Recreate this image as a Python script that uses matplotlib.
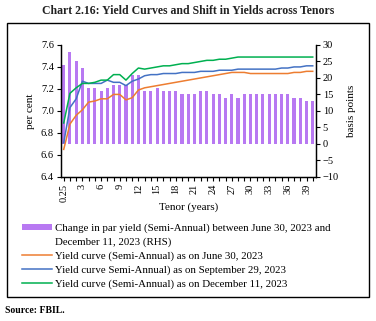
import matplotlib
matplotlib.use('Agg')
import matplotlib.pyplot as plt
from matplotlib.patches import Rectangle
from matplotlib.lines import Line2D

plt.rcParams['font.family'] = 'Liberation Serif'

tenors = ['0.25'] + [str(t) for t in range(1, 41)]

# change in par yield, Jun 30 -> Dec 11 (bps, right axis)
change_bp = [24, 28, 25, 23, 17, 17, 16, 17, 18, 18, 18, 21, 21, 16, 16, 17, 16, 16, 16, 15,
             15, 15, 16, 16, 15, 15, 14, 15, 14, 15, 15, 15, 15, 15, 15, 15, 15, 14, 14, 13, 13]

yc_jun30 = [6.65, 6.88, 6.96, 7.01, 7.08, 7.09, 7.11, 7.11, 7.15, 7.15, 7.10, 7.12, 7.19, 7.21,
            7.22, 7.23, 7.24, 7.25, 7.26, 7.27, 7.28, 7.29, 7.30, 7.31, 7.32, 7.33, 7.34, 7.35,
            7.35, 7.35, 7.34, 7.34, 7.34, 7.34, 7.34, 7.34, 7.34, 7.35, 7.35, 7.36, 7.36]
yc_sep29 = [6.71, 7.03, 7.11, 7.27, 7.25, 7.25, 7.25, 7.28, 7.26, 7.26, 7.23, 7.27, 7.29, 7.32,
            7.33, 7.33, 7.34, 7.34, 7.34, 7.35, 7.35, 7.35, 7.36, 7.36, 7.36, 7.37, 7.37, 7.37,
            7.38, 7.38, 7.38, 7.38, 7.38, 7.38, 7.38, 7.39, 7.39, 7.40, 7.40, 7.41, 7.41]
yc_dec11 = [6.89, 7.16, 7.21, 7.25, 7.25, 7.26, 7.28, 7.28, 7.33, 7.33, 7.28, 7.34, 7.39, 7.38,
            7.39, 7.40, 7.41, 7.41, 7.42, 7.43, 7.43, 7.44, 7.45, 7.46, 7.46, 7.47, 7.47, 7.48,
            7.49, 7.49, 7.49, 7.49, 7.49, 7.49, 7.49, 7.49, 7.49, 7.49, 7.49, 7.49, 7.49]

c_bar = '#b879f2'
c_jun = '#ed7d31'
c_sep = '#4472c4'
c_dec = '#00b050'

x = list(range(len(tenors)))

fig = plt.figure(figsize=(3.76, 3.21), dpi=100)
ax = fig.add_axes([0.162, 0.449, 0.678, 0.411])
ax2 = ax.twinx()

bars = ax2.bar(x, change_bp, width=0.5, color=c_bar, zorder=1)
ax2.set_ylim(-10, 30)
ax2.set_yticks(range(-10, 31, 5))
ax2.set_ylabel('basis points', fontsize=8, labelpad=6)

# lines on top of the bars
ax.set_zorder(ax2.get_zorder() + 1)
ax.patch.set_visible(False)
l1, = ax.plot(x, yc_jun30, color=c_jun, lw=1.1)
l2, = ax.plot(x, yc_sep29, color=c_sep, lw=1.1)
l3, = ax.plot(x, yc_dec11, color=c_dec, lw=1.1)
ax.set_ylim(6.4, 7.6)
ax.set_yticks([6.4, 6.6, 6.8, 7.0, 7.2, 7.4, 7.6])
ax.set_yticklabels(['6.4', '6.6', '6.8', '7.0', '7.2', '7.4', '7.6'])
ax.set_ylabel('per cent', fontsize=8, labelpad=4)

ax.set_xlim(-0.45, 40.5)
ax.set_xticks(x[::3])
ax.set_xticklabels(tenors[::3], rotation=90)
ax.set_xticks(x, minor=True)
ax.set_xlabel('Tenor (years)', fontsize=8, labelpad=0)

for a in (ax, ax2):
    a.spines['top'].set_visible(False)
    a.tick_params(labelsize=7.5, length=3, width=0.8, pad=2)
    a.tick_params(which='minor', length=3, width=0.8)
for s in ('left', 'bottom', 'right'):
    ax2.spines[s].set_linewidth(0.9)
    ax.spines[s].set_linewidth(0.9)

fig.text(0.5, 0.966, 'Chart 2.16: Yield Curves and Shift in Yields across Tenors',
         ha='center', va='center', fontsize=8.5, fontweight='bold', color='#222222')
fig.text(0.013, 0.034, 'Source: FBIL.', ha='left', va='center', fontsize=7, fontweight='bold')

fig.patches.append(Rectangle((0.019, 0.075), 0.963, 0.854, transform=fig.transFigure,
                             fill=False, edgecolor='black', lw=1.0))

# second line of the bar label sits under the first, with no handle
blank = Line2D([], [], color='none')
fig.legend([bars, blank, l1, l2, l3],
           ['Change in par yield (Semi-Annual) between June 30, 2023 and',
            'December 11, 2023 (RHS)',
            'Yield curve (Semi-Annual) as on June 30, 2023',
            'Yield curve Semi-Annual) as on September 29, 2023',
            'Yield curve (Semi-Annual) as on December 11, 2023'],
           loc='upper left', bbox_to_anchor=(0.058, 0.304), frameon=False,
           fontsize=7.8, handlelength=2.8, handleheight=0.55, handletextpad=0.28,
           labelspacing=0.4, borderaxespad=0, borderpad=0)

fig.savefig('out.png', dpi=100)
